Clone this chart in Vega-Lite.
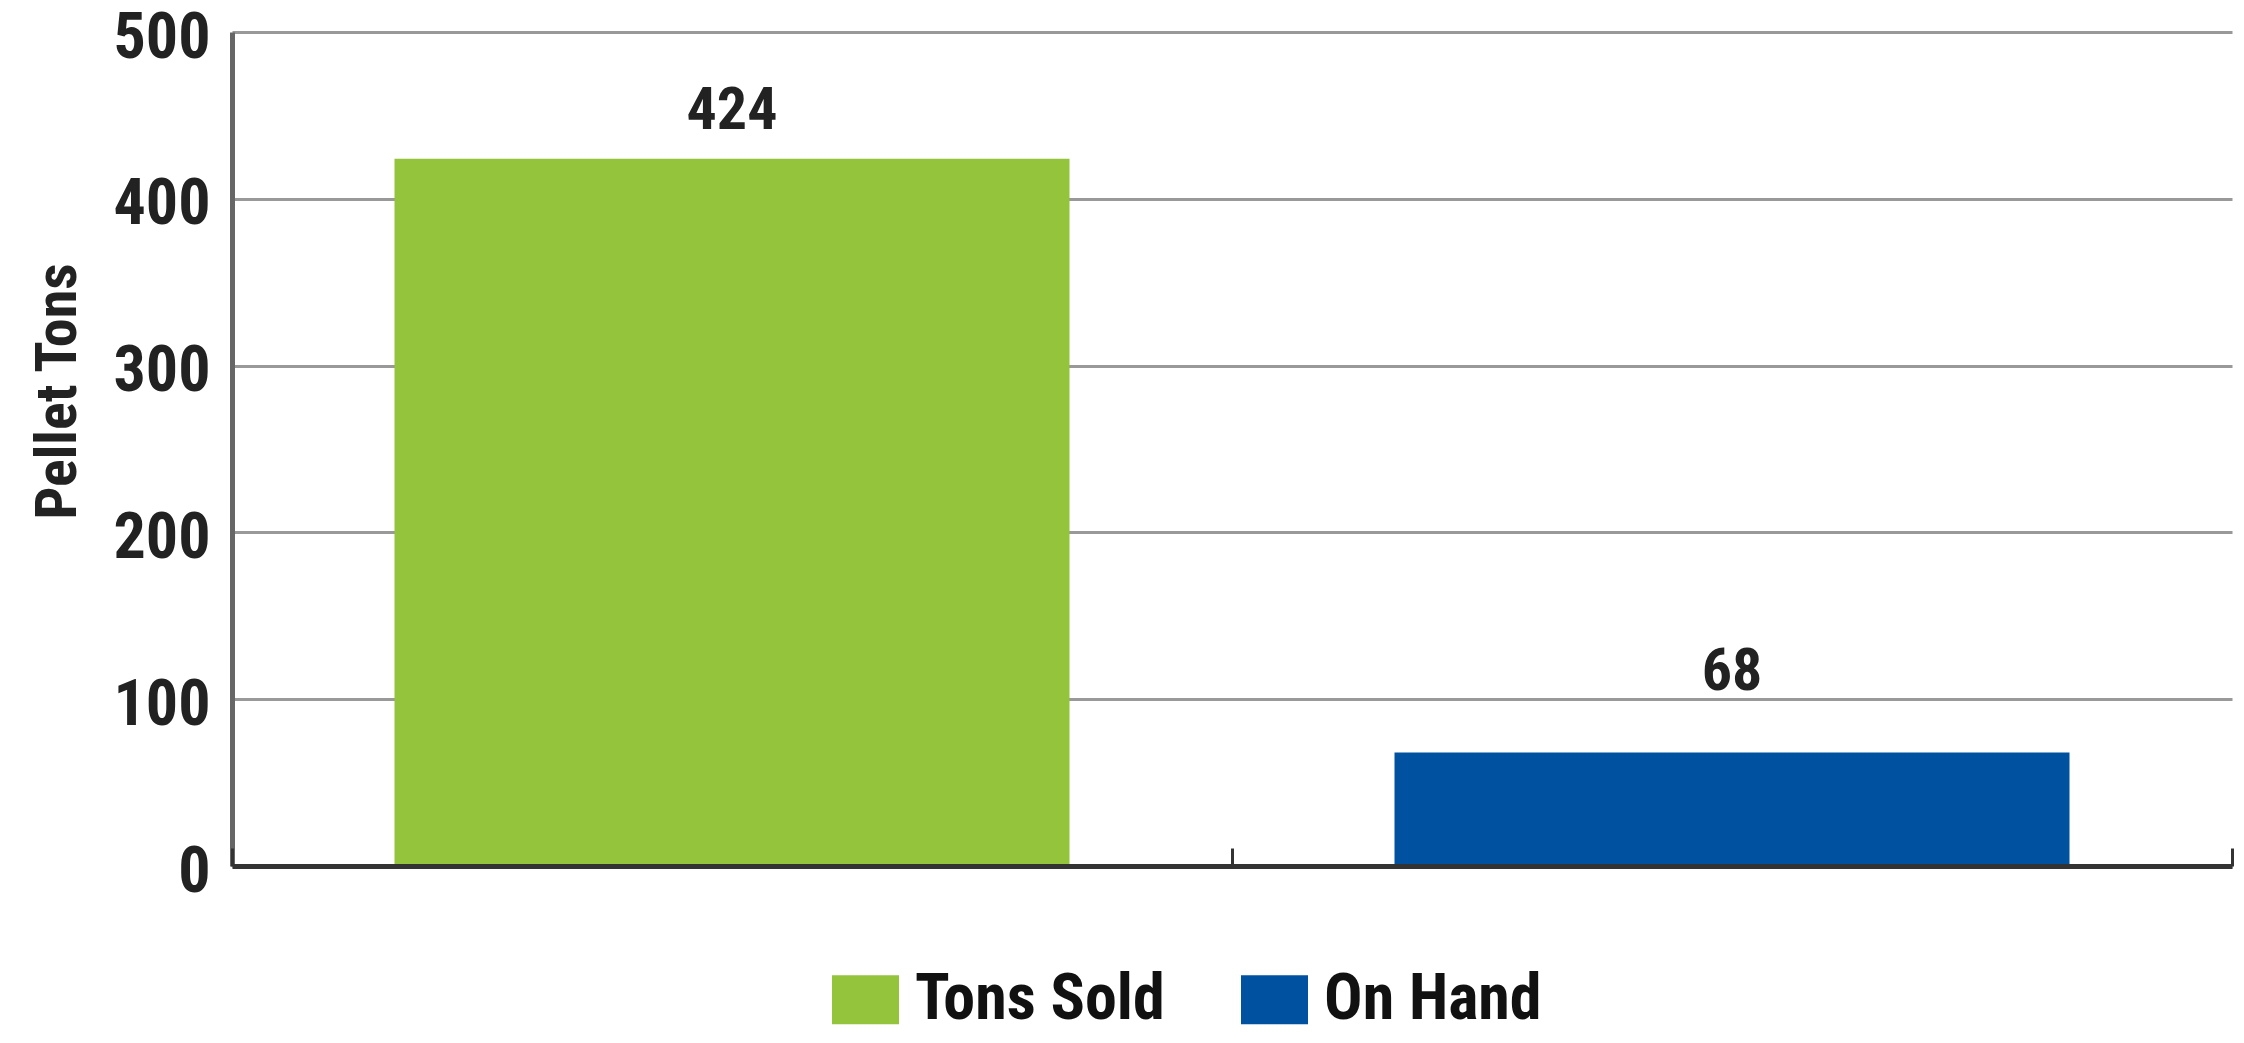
{
  "$schema": "https://vega.github.io/schema/vega-lite/v6.json",
  "width": 2000,
  "height": 834,
  "padding": {"left": 232, "top": 32, "right": 12, "bottom": 177},
  "autosize": {"type": "none"},
  "background": "white",
  "config": {
    "view": {"stroke": null},
    "font": "Roboto Condensed, Liberation Sans, Arial"
  },
  "data": {
    "values": [
      {"category": "Tons Sold", "tons": 424},
      {"category": "On Hand", "tons": 68}
    ]
  },
  "encoding": {
    "x": {
      "field": "category",
      "type": "nominal",
      "sort": ["Tons Sold", "On Hand"],
      "scale": {"paddingInner": 0, "paddingOuter": 0},
      "axis": {
        "labels": false,
        "title": null,
        "tickBand": "extent",
        "tickSize": -18,
        "tickWidth": 3,
        "tickColor": "#333333",
        "domainColor": "#333333",
        "domainWidth": 5,
        "zindex": 2
      }
    }
  },
  "layer": [
    {
      "mark": {"type": "bar", "width": {"band": 0.675}},
      "encoding": {
        "y": {
          "field": "tons",
          "type": "quantitative",
          "scale": {"domain": [0, 500], "nice": false},
          "axis": {
            "values": [0, 100, 200, 300, 400, 500],
            "title": "Pellet Tons",
            "titleFont": "Roboto Condensed, Liberation Sans, Arial",
            "titleFontSize": 58,
            "titleFontWeight": "bold",
            "titleColor": "#222222",
            "titleY": 359,
            "titleX": -145,
            "labelFont": "Roboto Condensed, Liberation Sans, Arial",
            "labelFontSize": 64,
            "labelFontWeight": "bold",
            "labelColor": "#222222",
            "labelPadding": 22,
            "labelOffset": 6,
            "ticks": false,
            "domainColor": "#666666",
            "domainWidth": 5,
            "gridColor": "#999999",
            "gridWidth": 3,
            "gridOpacity": 1
          }
        },
        "color": {
          "field": "category",
          "type": "nominal",
          "sort": ["Tons Sold", "On Hand"],
          "scale": {"domain": ["Tons Sold", "On Hand"], "range": ["#93C43C", "#0052A0"]},
          "legend": {
            "title": null,
            "orient": "none",
            "direction": "horizontal",
            "legendX": 600,
            "legendY": 934,
            "symbolType": "M-1,-0.73H1V0.73H-1Z",
            "symbolSize": 4489,
            "symbolStrokeWidth": 0,
            "labelFont": "Roboto Condensed, Liberation Sans, Arial",
            "labelFontSize": 64,
            "labelFontWeight": "bold",
            "labelColor": "#111111",
            "labelOffset": 16,
            "columnPadding": 76,
            "labelLimit": 400
          }
        }
      }
    },
    {
      "transform": [{"filter": "datum.category === 'Tons Sold'"}],
      "mark": {
        "type": "text",
        "baseline": "bottom",
        "dy": -17,
        "fontSize": 60,
        "fontWeight": "bold",
        "color": "#222222"
      },
      "encoding": {
        "y": {"field": "tons", "type": "quantitative"},
        "text": {"field": "tons", "type": "quantitative"}
      }
    },
    {
      "transform": [{"filter": "datum.category === 'On Hand'"}],
      "mark": {
        "type": "text",
        "baseline": "bottom",
        "dy": -50,
        "fontSize": 60,
        "fontWeight": "bold",
        "color": "#222222"
      },
      "encoding": {
        "y": {"field": "tons", "type": "quantitative"},
        "text": {"field": "tons", "type": "quantitative"}
      }
    }
  ]
}
